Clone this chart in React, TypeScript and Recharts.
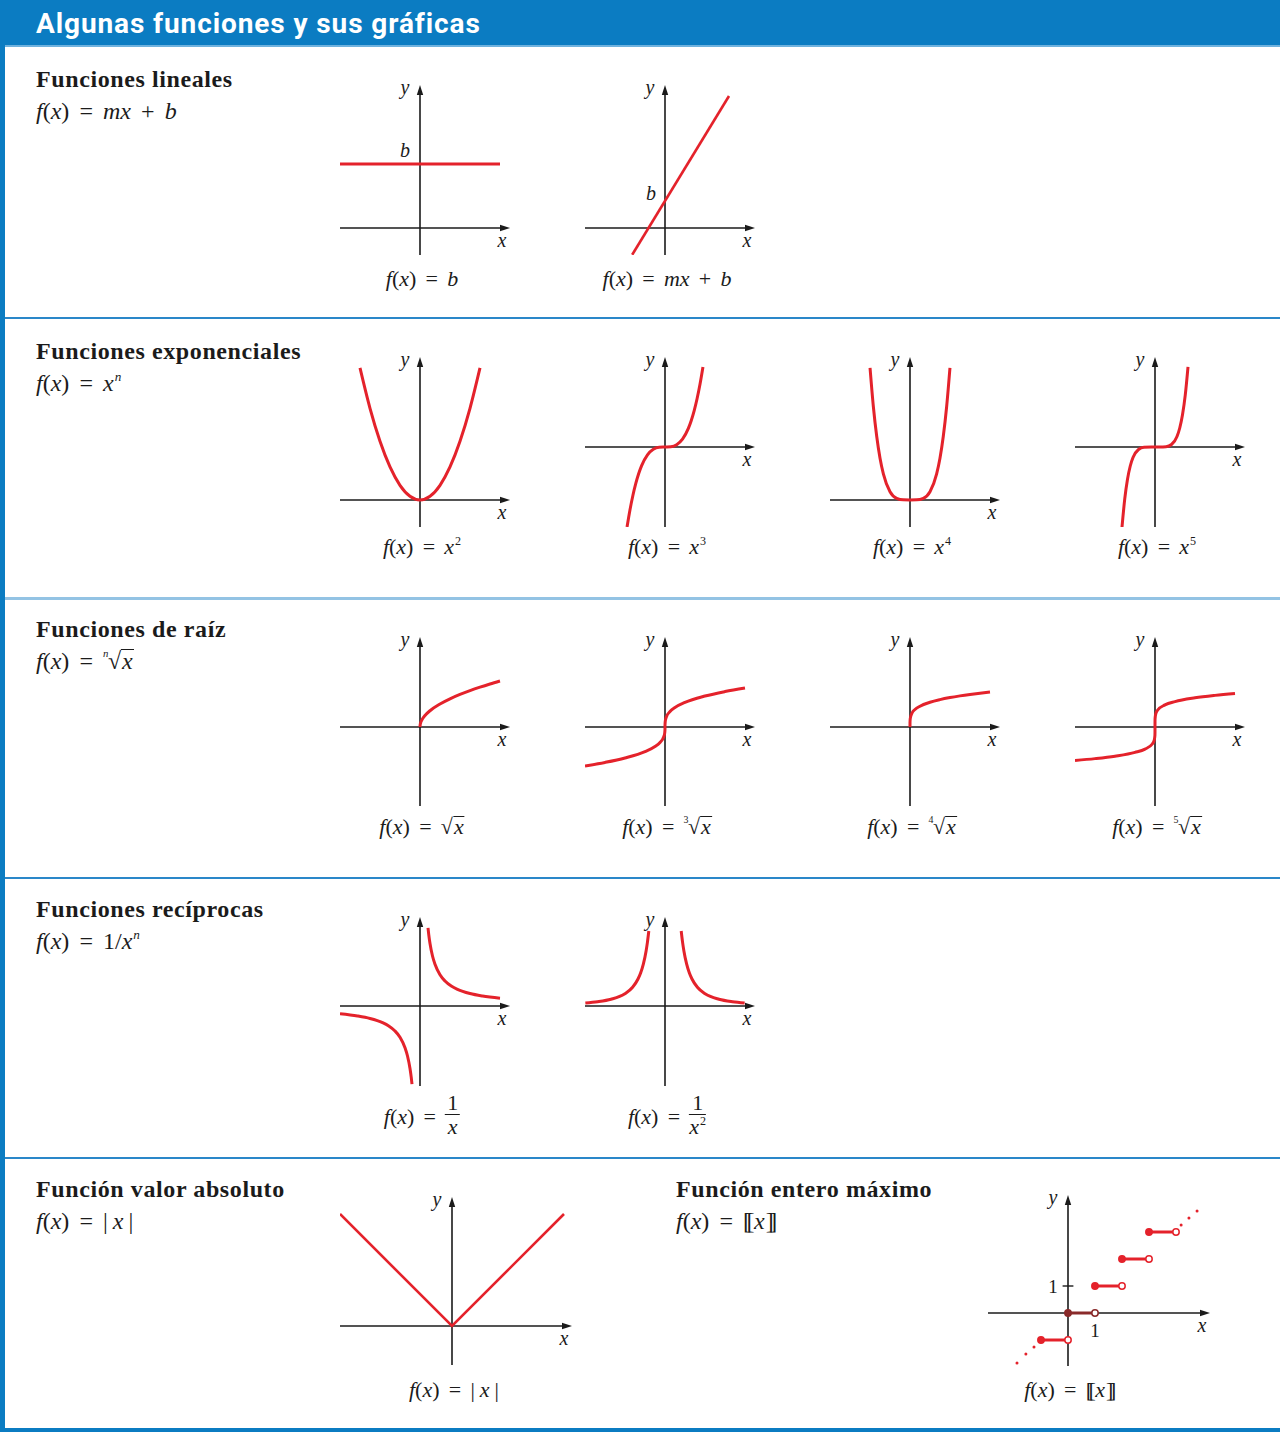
import React from 'react';
import { LineChart, Line, XAxis, YAxis, ReferenceLine } from 'recharts';

const RED = '#e4222b';
const INK = '#1b1b1b';
const BLUE = '#0b7cc2';
const SERIF = '"Liberation Serif", "Times New Roman", serif';

type Pt = { x: number; y: number };

// funciones lineales
const CONST_LINE: Pt[] = [{ x: -2, y: 1.6 }, { x: 2, y: 1.6 }];
const SLOPE_LINE: Pt[] = [{ x: -0.82, y: -0.67 }, { x: 1.6, y: 3.3 }];

// potencias
const SQUARE: Pt[] = [
  { x: -1.2, y: 1.44 }, { x: -1, y: 1 }, { x: -0.8, y: 0.64 }, { x: -0.6, y: 0.36 },
  { x: -0.4, y: 0.16 }, { x: -0.2, y: 0.04 }, { x: 0, y: 0 }, { x: 0.2, y: 0.04 },
  { x: 0.4, y: 0.16 }, { x: 0.6, y: 0.36 }, { x: 0.8, y: 0.64 }, { x: 1, y: 1 }, { x: 1.2, y: 1.44 },
];
const CUBE: Pt[] = [
  { x: -1.3, y: -2.197 }, { x: -1.2, y: -1.728 }, { x: -1.1, y: -1.331 }, { x: -1, y: -1 },
  { x: -0.9, y: -0.729 }, { x: -0.8, y: -0.512 }, { x: -0.6, y: -0.216 }, { x: -0.4, y: -0.064 },
  { x: -0.2, y: -0.008 }, { x: 0, y: 0 }, { x: 0.2, y: 0.008 }, { x: 0.4, y: 0.064 },
  { x: 0.6, y: 0.216 }, { x: 0.8, y: 0.512 }, { x: 0.9, y: 0.729 }, { x: 1, y: 1 },
  { x: 1.1, y: 1.331 }, { x: 1.2, y: 1.728 }, { x: 1.3, y: 2.197 },
];
const FOURTH: Pt[] = [
  { x: -1.2, y: 2.074 }, { x: -1.1, y: 1.464 }, { x: -1, y: 1 }, { x: -0.9, y: 0.656 },
  { x: -0.8, y: 0.41 }, { x: -0.6, y: 0.13 }, { x: -0.4, y: 0.026 }, { x: -0.2, y: 0.002 },
  { x: 0, y: 0 }, { x: 0.2, y: 0.002 }, { x: 0.4, y: 0.026 }, { x: 0.6, y: 0.13 },
  { x: 0.8, y: 0.41 }, { x: 0.9, y: 0.656 }, { x: 1, y: 1 }, { x: 1.1, y: 1.464 }, { x: 1.2, y: 2.074 },
];
const FIFTH: Pt[] = [
  { x: -1.2, y: -2.488 }, { x: -1.1, y: -1.611 }, { x: -1, y: -1 }, { x: -0.9, y: -0.59 },
  { x: -0.8, y: -0.328 }, { x: -0.6, y: -0.078 }, { x: -0.4, y: -0.01 }, { x: 0, y: 0 },
  { x: 0.4, y: 0.01 }, { x: 0.6, y: 0.078 }, { x: 0.8, y: 0.328 }, { x: 0.9, y: 0.59 },
  { x: 1, y: 1 }, { x: 1.1, y: 1.611 }, { x: 1.2, y: 2.488 },
];

// raíces
const ROOT2: Pt[] = [
  { x: 0, y: 0 }, { x: 0.01, y: 0.1 }, { x: 0.04, y: 0.2 }, { x: 0.09, y: 0.3 }, { x: 0.25, y: 0.5 },
  { x: 0.5, y: 0.707 }, { x: 1, y: 1 }, { x: 1.5, y: 1.225 }, { x: 2, y: 1.414 },
  { x: 2.5, y: 1.581 }, { x: 3, y: 1.732 }, { x: 3.5, y: 1.871 }, { x: 4, y: 2 },
];
const ROOT3: Pt[] = [
  { x: -8, y: -2 }, { x: -6, y: -1.817 }, { x: -4, y: -1.587 }, { x: -2, y: -1.26 },
  { x: -1, y: -1 }, { x: -0.5, y: -0.794 }, { x: -0.125, y: -0.5 }, { x: -0.027, y: -0.3 },
  { x: -0.001, y: -0.1 }, { x: 0, y: 0 }, { x: 0.001, y: 0.1 }, { x: 0.027, y: 0.3 },
  { x: 0.125, y: 0.5 }, { x: 0.5, y: 0.794 }, { x: 1, y: 1 }, { x: 2, y: 1.26 },
  { x: 4, y: 1.587 }, { x: 6, y: 1.817 }, { x: 8, y: 2 },
];
const ROOT4: Pt[] = [
  { x: 0, y: 0 }, { x: 0.0001, y: 0.1 }, { x: 0.0016, y: 0.2 }, { x: 0.0081, y: 0.3 },
  { x: 0.0625, y: 0.5 }, { x: 0.41, y: 0.8 }, { x: 1, y: 1 }, { x: 2, y: 1.189 },
  { x: 4, y: 1.414 }, { x: 6, y: 1.565 }, { x: 8, y: 1.682 }, { x: 10, y: 1.778 },
  { x: 12, y: 1.861 }, { x: 14, y: 1.934 }, { x: 16, y: 2 },
];
const ROOT5: Pt[] = [
  { x: -32, y: -2 }, { x: -24, y: -1.888 }, { x: -16, y: -1.741 }, { x: -8, y: -1.516 },
  { x: -4, y: -1.32 }, { x: -1, y: -1 }, { x: -0.328, y: -0.8 }, { x: -0.031, y: -0.5 },
  { x: -0.0024, y: -0.3 }, { x: -0.00001, y: -0.1 }, { x: 0, y: 0 }, { x: 0.00001, y: 0.1 },
  { x: 0.0024, y: 0.3 }, { x: 0.031, y: 0.5 }, { x: 0.328, y: 0.8 }, { x: 1, y: 1 },
  { x: 4, y: 1.32 }, { x: 8, y: 1.516 }, { x: 16, y: 1.741 }, { x: 24, y: 1.888 }, { x: 32, y: 2 },
];

// recíprocas
const RECIP_NEG: Pt[] = [
  { x: -3.2, y: -0.3125 }, { x: -2.5, y: -0.4 }, { x: -2, y: -0.5 }, { x: -1.5, y: -0.667 },
  { x: -1.25, y: -0.8 }, { x: -1, y: -1 }, { x: -0.8, y: -1.25 }, { x: -0.6, y: -1.667 },
  { x: -0.5, y: -2 }, { x: -0.4, y: -2.5 }, { x: -0.35, y: -2.857 }, { x: -0.32, y: -3.125 },
];
const RECIP_POS: Pt[] = [
  { x: 0.32, y: 3.125 }, { x: 0.35, y: 2.857 }, { x: 0.4, y: 2.5 }, { x: 0.5, y: 2 },
  { x: 0.6, y: 1.667 }, { x: 0.8, y: 1.25 }, { x: 1, y: 1 }, { x: 1.25, y: 0.8 },
  { x: 1.5, y: 0.667 }, { x: 2, y: 0.5 }, { x: 2.5, y: 0.4 }, { x: 3.2, y: 0.3125 },
];
const RECIP_SQ_LEFT: Pt[] = [
  { x: -2.95, y: 0.115 }, { x: -2.5, y: 0.16 }, { x: -2, y: 0.25 }, { x: -1.5, y: 0.444 },
  { x: -1.2, y: 0.694 }, { x: -1, y: 1 }, { x: -0.9, y: 1.235 }, { x: -0.8, y: 1.563 },
  { x: -0.7, y: 2.041 }, { x: -0.65, y: 2.367 }, { x: -0.6, y: 2.778 },
];
const RECIP_SQ_RIGHT: Pt[] = [
  { x: 0.6, y: 2.778 }, { x: 0.65, y: 2.367 }, { x: 0.7, y: 2.041 }, { x: 0.8, y: 1.563 },
  { x: 0.9, y: 1.235 }, { x: 1, y: 1 }, { x: 1.2, y: 0.694 }, { x: 1.5, y: 0.444 },
  { x: 2, y: 0.25 }, { x: 2.5, y: 0.16 }, { x: 2.95, y: 0.115 },
];

// valor absoluto y entero máximo
const ABS_VALUE: Pt[] = [{ x: -2.24, y: 2.24 }, { x: 0, y: 0 }, { x: 2.24, y: 2.24 }];
const FLOOR_STEPS: Pt[][] = [
  [{ x: -1, y: -1 }, { x: 0, y: -1 }],
  [{ x: 0, y: 0 }, { x: 1, y: 0 }],
  [{ x: 1, y: 1 }, { x: 2, y: 1 }],
  [{ x: 2, y: 2 }, { x: 3, y: 2 }],
  [{ x: 3, y: 3 }, { x: 4, y: 3 }],
];
const FLOOR_DOTS_LEFT: Pt[] = [{ x: -1.89, y: -1.85 }, { x: -1.56, y: -1.52 }, { x: -1.26, y: -1.26 }];
const FLOOR_DOTS_RIGHT: Pt[] = [{ x: 4.19, y: 3.26 }, { x: 4.48, y: 3.52 }, { x: 4.78, y: 3.78 }];

const hAxis = (p: any) => {
  const y = p.y1;
  const xs = Math.min(p.x1, p.x2);
  const xe = Math.max(p.x1, p.x2);
  return (
    <g>
      <line x1={xs} y1={y} x2={xe - 5} y2={y} stroke={INK} strokeWidth={1.6} />
      <path d={`M${xe} ${y}L${xe - 10} ${y - 3.2}L${xe - 10} ${y + 3.2}Z`} fill={INK} />
    </g>
  );
};

const vAxis = (p: any) => {
  const x = p.x1;
  const ys = Math.min(p.y1, p.y2);
  const ye = Math.max(p.y1, p.y2);
  return (
    <g>
      <line x1={x} y1={ys + 5} x2={x} y2={ye} stroke={INK} strokeWidth={1.6} />
      <path d={`M${x} ${ys}L${x - 3.2} ${ys + 10}L${x + 3.2} ${ys + 10}Z`} fill={INK} />
    </g>
  );
};

type Series = { data: Pt[]; color?: string; width?: number; curve?: 'monotone' | 'linear'; dot?: any; noStroke?: boolean };

type GraphProps = {
  left: number; top: number; width: number; height: number;
  ox: number; oy: number; xUnit: number; yUnit: number;
  series: Series[];
  extra?: React.ReactNode;
};

const M = 10;

function MiniGraph({ left, top, width, height, ox, oy, xUnit, yUnit, series, extra }: GraphProps) {
  const xDomain = [-ox / xUnit, (width - ox) / xUnit];
  const yDomain = [-(height - oy) / yUnit, oy / yUnit];
  return (
    <div style={{ position: 'absolute', left: left - M, top: top - M }}>
      <LineChart width={width + 2 * M} height={height + 2 * M} margin={{ top: M, right: M, bottom: M, left: M }}>
        <XAxis type="number" dataKey="x" domain={xDomain} hide allowDataOverflow />
        <YAxis type="number" domain={yDomain} hide allowDataOverflow />
        <ReferenceLine y={0} shape={hAxis} />
        <ReferenceLine x={0} shape={vAxis} />
        {extra}
        {series.map((s, i) => (
          <Line
            key={i}
            data={s.data}
            dataKey="y"
            type={s.curve ?? 'monotone'}
            stroke={s.noStroke ? 'none' : s.color ?? RED}
            strokeWidth={s.width ?? 3}
            dot={s.dot ?? false}
            activeDot={false}
            isAnimationActive={false}
          />
        ))}
      </LineChart>
    </div>
  );
}

const stepDot = (color: string) => (p: any) => (
  <circle
    key={`d${p.index}`}
    cx={p.cx}
    cy={p.cy}
    r={3.2}
    fill={p.index === 0 ? color : '#fff'}
    stroke={color}
    strokeWidth={1.5}
  />
);

// text helpers
function T({ x, base, size, children, style, center }: { x: number; base: number; size: number; children: React.ReactNode; style?: React.CSSProperties; center?: boolean }) {
  return (
    <div
      style={{
        position: 'absolute',
        left: x,
        top: base - 0.8375 * size,
        fontSize: size,
        lineHeight: `${size}px`,
        whiteSpace: 'nowrap',
        fontFamily: SERIF,
        color: INK,
        transform: center ? 'translateX(-50%)' : undefined,
        ...style,
      }}
    >
      {children}
    </div>
  );
}

const Op = ({ c }: { c: string }) => <span style={{ margin: '0 0.42em', fontStyle: 'normal' }}>{c}</span>;
const FX = () => (
  <>
    <i>f</i>(<i>x</i>)
    <Op c="=" />
  </>
);
const Root = ({ n }: { n?: string }) => (
  <span>
    {n && (
      <span style={{ fontSize: '0.45em', position: 'relative', top: '-1.1em', marginRight: '-0.05em', fontStyle: n === 'n' ? 'italic' : 'normal' }}>{n}</span>
    )}
    <span style={{ fontStyle: 'normal' }}>√</span>
    <span style={{ borderTop: '1.3px solid #1b1b1b', display: 'inline-block', lineHeight: '0.95em', paddingLeft: 1, paddingRight: 1 }}>
      <i>x</i>
    </span>
  </span>
);
const Frac = ({ den }: { den: React.ReactNode }) => (
  <span style={{ display: 'inline-flex', flexDirection: 'column', alignItems: 'center', verticalAlign: 'middle', lineHeight: 1, position: 'relative', top: -4 }}>
    <span style={{ padding: '0 2px' }}>1</span>
    <span style={{ borderTop: '1.4px solid #1b1b1b', width: '100%', textAlign: 'center', paddingTop: 1 }}>{den}</span>
  </span>
);
const Floor = () => (
  <>
    <span style={{ letterSpacing: -4.5 }}>[[</span>
    <span style={{ marginLeft: 4 }}><i>x</i></span>
    <span style={{ letterSpacing: -4.5, marginLeft: 1 }}>]]</span>
    <span style={{ marginLeft: 4 }} />
  </>
);
const Abs = () => (
  <>
    <span>|</span>
    <span style={{ margin: '0 5px' }}><i>x</i></span>
    <span>|</span>
  </>
);

function AxisLabels({ ox, top, right, oy }: { ox: number; top: number; right: number; oy: number }) {
  return (
    <>
      <T x={ox - 15} base={top + 9} size={20} center>
        <i>y</i>
      </T>
      <T x={right - 8} base={oy + 19} size={20} center>
        <i>x</i>
      </T>
    </>
  );
}

type Cell = {
  left: number; top: number; width: number; height: number; ox: number; oy: number;
  xUnit: number; yUnit: number; series: Series[]; caption: React.ReactNode; capBase: number; extra?: React.ReactNode;
};

const ROW_LEFTS = [340, 585, 830, 1075];
const sup = (s: string, italic?: boolean) => (
  <span style={{ fontSize: '0.55em', position: 'relative', top: '-0.75em', marginLeft: 1, fontStyle: italic ? 'italic' : 'normal' }}>{s}</span>
);

const CELLS: Cell[] = [
  { left: ROW_LEFTS[0], top: 85, width: 170, height: 170, ox: 80, oy: 143, xUnit: 40, yUnit: 40, series: [{ data: CONST_LINE, curve: 'linear' }], caption: <><FX /><i>b</i></>, capBase: 286 },
  { left: ROW_LEFTS[1], top: 85, width: 170, height: 170, ox: 80, oy: 143, xUnit: 40, yUnit: 40, series: [{ data: SLOPE_LINE, curve: 'linear', width: 2.6 }], caption: <><FX /><i>mx</i><Op c="+" /><i>b</i></>, capBase: 286 },
  { left: ROW_LEFTS[0], top: 357, width: 170, height: 170, ox: 80, oy: 143, xUnit: 50, yUnit: 91.7, series: [{ data: SQUARE }], caption: <><FX /><i>x</i>{sup('2')}</>, capBase: 554 },
  { left: ROW_LEFTS[1], top: 357, width: 170, height: 170, ox: 80, oy: 90, xUnit: 29.2, yUnit: 36.4, series: [{ data: CUBE }], caption: <><FX /><i>x</i>{sup('3')}</>, capBase: 554 },
  { left: ROW_LEFTS[2], top: 357, width: 170, height: 170, ox: 80, oy: 143, xUnit: 33.3, yUnit: 63.7, series: [{ data: FOURTH }], caption: <><FX /><i>x</i>{sup('4')}</>, capBase: 554 },
  { left: ROW_LEFTS[3], top: 357, width: 170, height: 170, ox: 80, oy: 90, xUnit: 27.5, yUnit: 32.2, series: [{ data: FIFTH }], caption: <><FX /><i>x</i>{sup('5')}</>, capBase: 554 },
  { left: ROW_LEFTS[0], top: 637, width: 170, height: 169, ox: 80, oy: 90, xUnit: 20, yUnit: 23, series: [{ data: ROOT2 }], caption: <><FX /><Root /></>, capBase: 834 },
  { left: ROW_LEFTS[1], top: 637, width: 170, height: 169, ox: 80, oy: 90, xUnit: 10, yUnit: 19.5, series: [{ data: ROOT3 }], caption: <><FX /><Root n="3" /></>, capBase: 834 },
  { left: ROW_LEFTS[2], top: 637, width: 170, height: 169, ox: 80, oy: 90, xUnit: 5, yUnit: 17.5, series: [{ data: ROOT4 }], caption: <><FX /><Root n="4" /></>, capBase: 834 },
  { left: ROW_LEFTS[3], top: 637, width: 170, height: 169, ox: 80, oy: 90, xUnit: 2.5, yUnit: 16.75, series: [{ data: ROOT5 }], caption: <><FX /><Root n="5" /></>, capBase: 834 },
  { left: ROW_LEFTS[0], top: 917, width: 170, height: 169, ox: 80, oy: 89, xUnit: 25, yUnit: 25, series: [{ data: RECIP_NEG }, { data: RECIP_POS }], caption: <><FX /><Frac den={<i>x</i>} /></>, capBase: 1114 },
  { left: ROW_LEFTS[1], top: 917, width: 170, height: 169, ox: 80, oy: 89, xUnit: 27, yUnit: 27, series: [{ data: RECIP_SQ_LEFT }, { data: RECIP_SQ_RIGHT }], caption: <><FX /><Frac den={<><i>x</i>{sup('2')}</>} /></>, capBase: 1114 },
  { left: 340, top: 1197, width: 232, height: 168, ox: 112, oy: 129, xUnit: 50, yUnit: 50, series: [{ data: ABS_VALUE, curve: 'linear', width: 2.6 }], caption: <><FX /><Abs /></>, capBase: 1397 },
  {
    left: 988, top: 1195, width: 222, height: 171, ox: 80, oy: 118, xUnit: 27, yUnit: 27,
    series: [
      ...FLOOR_STEPS.map((d, i) => ({ data: d, curve: 'linear' as const, width: 3, color: i === 1 ? '#8a2a2a' : RED, dot: stepDot(i === 1 ? '#8a2a2a' : RED) })),
      { data: FLOOR_DOTS_LEFT, curve: 'linear', noStroke: true, dot: { r: 1.5, fill: RED, stroke: 'none' } },
      { data: FLOOR_DOTS_RIGHT, curve: 'linear', noStroke: true, dot: { r: 1.5, fill: RED, stroke: 'none' } },
    ],
    extra: <ReferenceLine segment={[{ x: -0.2, y: 1 }, { x: 0.2, y: 1 }]} stroke={INK} strokeWidth={1.4} />,
    caption: <><FX /><Floor /></>, capBase: 1397,
  },
];

const SECTIONS: { title: string; formula: React.ReactNode; base: number; x: number }[] = [
  { title: 'Funciones lineales', formula: <><FX /><i>mx</i><Op c="+" /><i>b</i></>, base: 87, x: 36 },
  { title: 'Funciones exponenciales', formula: <><FX /><i>x</i>{sup('n', true)}</>, base: 359, x: 36 },
  { title: 'Funciones de raíz', formula: <><FX /><Root n="n" /></>, base: 637, x: 36 },
  { title: 'Funciones recíprocas', formula: <><FX />1/<i>x</i>{sup('n', true)}</>, base: 917, x: 36 },
  { title: 'Función valor absoluto', formula: <><FX /><Abs /></>, base: 1197, x: 36 },
  { title: 'Función entero máximo', formula: <><FX /><Floor /></>, base: 1197, x: 676 },
];

const SEPARATORS = [
  { y: 317, h: 2, c: '#2a87c9' },
  { y: 597, h: 3, c: '#93c3e4' },
  { y: 877, h: 2, c: '#2a87c9' },
  { y: 1157, h: 2, c: '#2a87c9' },
  { y: 1428, h: 4, c: BLUE },
];

export default function App() {
  return (
    <div style={{ position: 'relative', width: 1280, height: 1432, background: '#fff', overflow: 'hidden', fontFamily: SERIF }}>
      <style>{'body{margin:0}'}</style>
      <div style={{ position: 'absolute', left: 0, top: 0, width: 1280, height: 45, background: BLUE }} />
      <div style={{ position: 'absolute', left: 5, top: 45, width: 1275, height: 2, background: '#6fb2de' }} />
      <div style={{ position: 'absolute', left: 0, top: 0, width: 5, height: 1432, background: BLUE }} />
      <div
        style={{
          position: 'absolute', left: 36, top: 34 - 0.84 * 28, fontSize: 28, lineHeight: '28px', letterSpacing: 0.9,
          fontFamily: 'Roboto, "Liberation Sans", sans-serif', fontWeight: 700, color: '#fff', whiteSpace: 'nowrap',
        }}
      >
        Algunas funciones y sus gráficas
      </div>
      {SEPARATORS.map((s, i) => (
        <div key={i} style={{ position: 'absolute', left: 5, top: s.y, width: 1275, height: s.h, background: s.c }} />
      ))}
      {SECTIONS.map((s, i) => (
        <React.Fragment key={i}>
          <T x={s.x} base={s.base} size={24} style={{ fontWeight: 700, letterSpacing: 0.6 }}>
            {s.title}
          </T>
          <T x={s.x} base={s.base + 32} size={24}>
            {s.formula}
          </T>
        </React.Fragment>
      ))}
      {CELLS.map((c, i) => (
        <React.Fragment key={i}>
          <MiniGraph {...c} />
          <AxisLabels ox={c.left + c.ox} top={c.top} right={c.left + c.width} oy={c.top + c.oy} />
          <T x={c.left + c.ox + 2} base={c.capBase} size={22} center>
            {c.caption}
          </T>
        </React.Fragment>
      ))}
      <T x={405} base={157} size={20} center><i>b</i></T>
      <T x={651} base={200} size={20} center><i>b</i></T>
      <T x={1053} base={1293} size={19} center>1</T>
      <T x={1095} base={1337} size={19} center>1</T>
    </div>
  );
}
